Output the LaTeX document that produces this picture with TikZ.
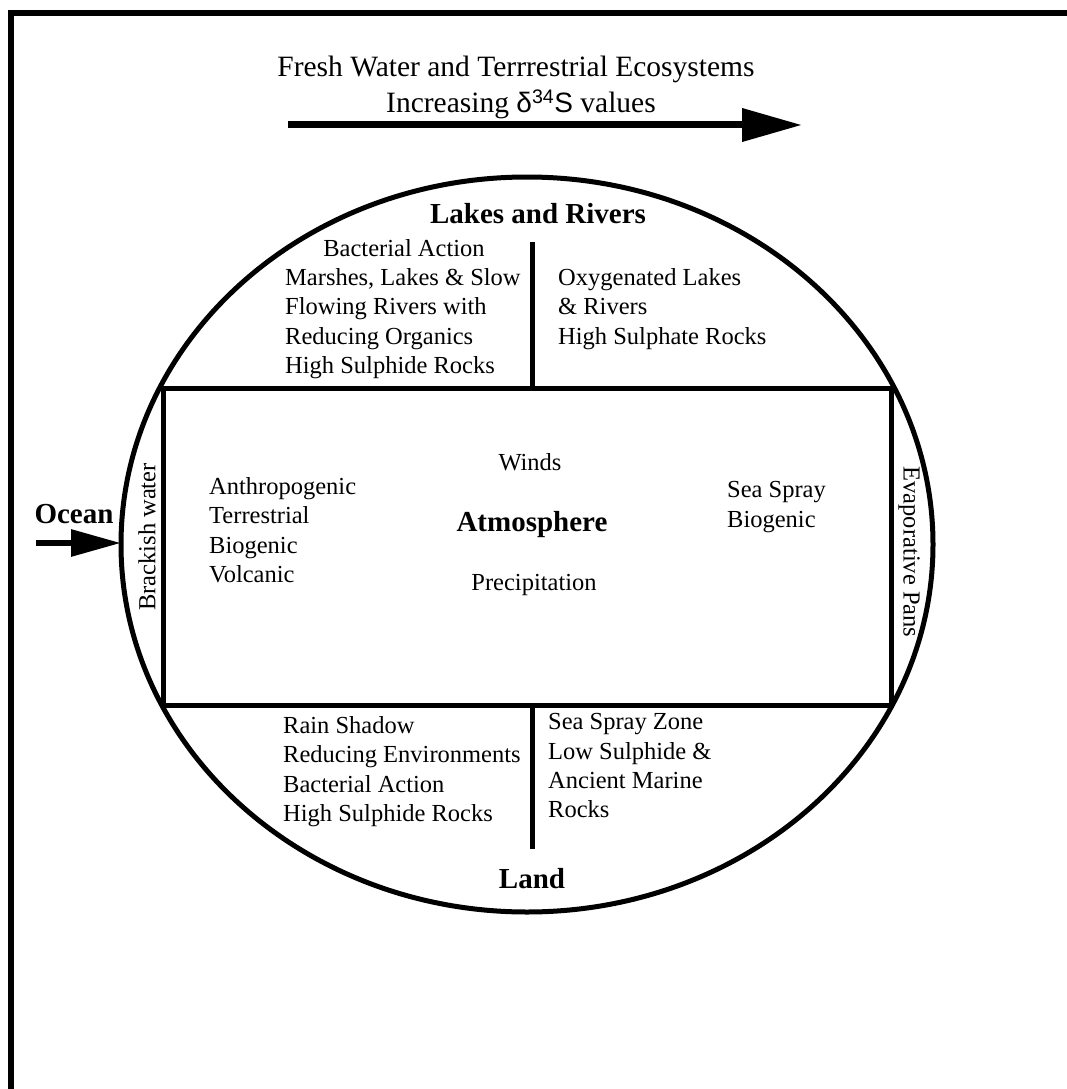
\documentclass[tikz,border=0pt]{standalone}
\usepackage{fontspec}
\setmainfont{Liberation Serif}
\setsansfont{Liberation Sans}
\usetikzlibrary{arrows.meta}
\begin{document}
\begin{tikzpicture}[x=1pt,y=-1pt,
  body/.style={inner sep=0pt, font=\fontsize{24.5}{29.3}\selectfont, align=left, anchor=north west},
  line1/.style={inner sep=0pt, font=\fontsize{24.5}{29.3}\selectfont, anchor=base},
  ttl/.style={inner sep=0pt, font=\fontsize{29}{34}\selectfont\bfseries, anchor=base},
  heavy/.style={line width=5pt},
  side/.style={inner sep=0pt, font=\fontsize{24.5}{29.3}\selectfont, anchor=center}]
\useasboundingbox (0,0) rectangle (1066,1089);
\fill[white] (0,0) rectangle (1066,1089);
% frame (top and left only)
\draw[line width=6pt] (11,1100) -- (11,13) -- (1080,13);
% header text and arrow
\node[inner sep=0pt, font=\fontsize{29.5}{34}\selectfont, anchor=base] (hdr) at (516,77) {Fresh Water and Terrrestrial Ecosystems};
\node[inner sep=0pt, font=\fontsize{29.5}{34}\selectfont, anchor=base] (inc) at (521,113) {Increasing {\sffamily\fontsize{28}{34}\selectfont δ\textsuperscript{34}S} values};
\coordinate (a1) at (288,125);
\coordinate (a2) at (802,125);
\draw[line width=7pt, -{Triangle[length=60pt,width=32pt]}] (a1) -- (a2);
% ellipse and atmosphere box
\draw[heavy] (527,544.5) ellipse [x radius=406pt, y radius=367.5pt];
\node[heavy, draw, inner sep=0pt, minimum width=728pt, minimum height=317pt] (atm) at (527,546.5) {};
% dividers
\coordinate (t1) at (532,242);
\coordinate (b1) at (532,849);
\draw[heavy] (t1) -- (t1 |- atm.north);
\draw[heavy] (b1) -- (b1 |- atm.south);
% top region
\node[ttl] (lr) at (538,223) {Lakes and Rivers};
\node[line1] (ba) at (404,256) {Bacterial Action};
\node[body] (tl) at (285,268.4) {Marshes, Lakes \& Slow\\Flowing Rivers with\\Reducing Organics\\High Sulphide Rocks};
\node[body] (tr) at (558,268.4) {Oxygenated Lakes\\\& Rivers\\High Sulphate Rocks};
% atmosphere region
\node[line1] (wi) at (530,470) {Winds};
\node[ttl] (at) at (532,531) {Atmosphere};
\node[line1] (pr) at (534,590) {Precipitation};
\node[body] (lf) at (209,477.4) {Anthropogenic\\Terrestrial\\Biogenic\\Volcanic};
\node[body] (rt) at (727,481.4) {Sea Spray\\Biogenic};
% sides
\node[side, rotate=90] (bw) at (147,537) {Brackish water};
\node[side, rotate=-90] (ep) at (909,552) {Evaporative Pans};
\node[ttl] (oc) at (74,523) {Ocean};
\coordinate (o1) at (36,543);
\draw[line width=6pt, -{Triangle[length=50pt,width=26pt]}] (o1) -- (121,543) coordinate (o2);
% bottom region
\node[body] (bl) at (283,716.4) {Rain Shadow\\Reducing Environments\\Bacterial Action\\High Sulphide Rocks};
\node[body] (br) at (548,713.4) {Sea Spray Zone\\Low Sulphide \&\\Ancient Marine\\Rocks};
\node[ttl] (la) at (532,888) {Land};
\end{tikzpicture}
\end{document}
